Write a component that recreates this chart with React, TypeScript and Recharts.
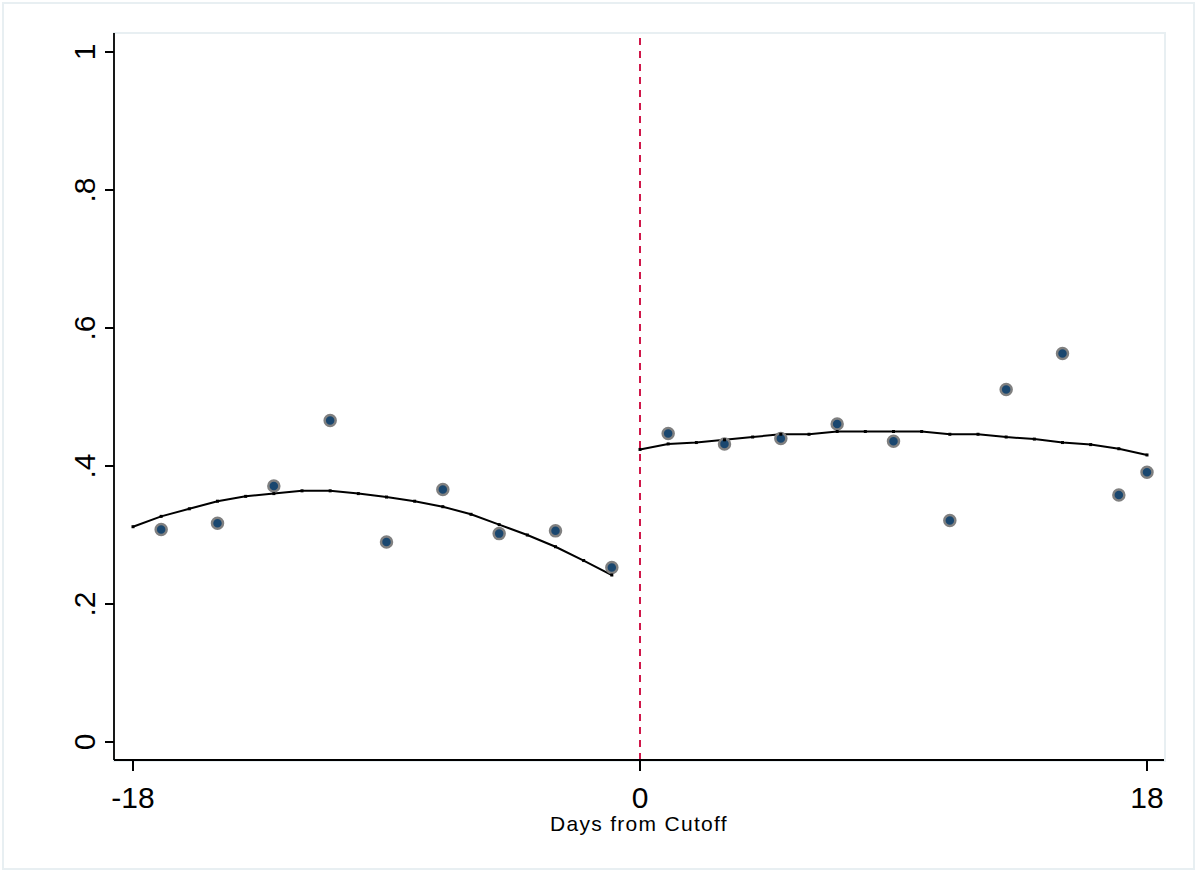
import { ComposedChart, Line, Scatter, XAxis, YAxis, ReferenceLine } from 'recharts'

// binned means (scatter)
const binX = [-17, -15, -13, -11, -9, -7, -5, -3, -1, 1, 3, 5, 7, 9, 11, 13, 15, 17, 18]
const binY = [0.308, 0.317, 0.371, 0.466, 0.290, 0.366, 0.302, 0.306, 0.253, 0.447, 0.432, 0.440, 0.461, 0.436, 0.321, 0.511, 0.563, 0.358, 0.391]

// fitted values, left of cutoff
const leftX = [-18, -17, -16, -15, -14, -13, -12, -11, -10, -9, -8, -7, -6, -5, -4, -3, -2, -1]
const leftY = [0.312, 0.327, 0.338, 0.349, 0.356, 0.360, 0.364, 0.364, 0.360, 0.355, 0.349, 0.341, 0.330, 0.315, 0.300, 0.283, 0.263, 0.242]

// fitted values, right of cutoff
const rightX = [0, 1, 2, 3, 4, 5, 6, 7, 8, 9, 10, 11, 12, 13, 14, 15, 16, 17, 18]
const rightY = [0.424, 0.432, 0.434, 0.438, 0.442, 0.446, 0.446, 0.450, 0.450, 0.450, 0.450, 0.446, 0.446, 0.442, 0.439, 0.434, 0.431, 0.425, 0.416]

const xTicks = [-18, 0, 18]
const yTicks = [0, 0.2, 0.4, 0.6, 0.8, 1]
const yTickLabels = ['0', '.2', '.4', '.6', '.8', '1']

const bins = binX.map((x, i) => ({ x, y: binY[i] }))
const leftFit = leftX.map((x, i) => ({ x, y: leftY[i] }))
const rightFit = rightX.map((x, i) => ({ x, y: rightY[i] }))

const font = '"Liberation Sans", Arial, sans-serif'

const XTick = (props: any) => {
  const { x, y, payload } = props
  return (
    <text x={x} y={y} textAnchor="middle" fontFamily={font} fontSize={30} fill="#000">
      {payload.value}
    </text>
  )
}

const YTick = (props: any) => {
  const { x, y, payload } = props
  const i = yTicks.indexOf(payload.value)
  return (
    <text x={x} y={y} transform={`rotate(-90, ${x}, ${y})`} textAnchor="middle" fontFamily={font} fontSize={30} fill="#000">
      {yTickLabels[i]}
    </text>
  )
}

const BinDot = (props: any) => {
  const { cx, cy } = props
  return <circle cx={cx} cy={cy} r={5.5} fill="#1a476f" stroke="#808080" strokeWidth={2.5} />
}

const FitDot = (props: any) => {
  const { cx, cy, index } = props
  return <rect key={index} x={cx - 1.5} y={cy - 1.5} width={3} height={3} fill="#000" />
}

export default function App() {
  return (
    <div style={{ position: 'absolute', left: 0, top: 0, width: 1196, height: 871, background: '#fff' }}>
      <div style={{ position: 'absolute', left: 2, top: 2, width: 1189, height: 864, border: '2px solid #e8eff2' }} />
      <div style={{ position: 'absolute', left: 113, top: 32, width: 1049, height: 726, border: '2px solid #e8eff2' }} />
      <div style={{ position: 'absolute', left: 0, top: 0 }}>
        <ComposedChart width={1196} height={871} margin={{ top: 33, right: 32, bottom: 0, left: 0 }}>
          <XAxis
            dataKey="x"
            type="number"
            domain={[-18, 18]}
            ticks={xTicks}
            padding={{ left: 19, right: 17 }}
            height={111}
            tickSize={11}
            tickMargin={37}
            tick={<XTick />}
            stroke="#000"
            strokeWidth={1.8}
            tickLine={{ stroke: '#000', strokeWidth: 2 }}
            label={{ value: 'Days from Cutoff', position: 'insideBottom', offset: 40, fontFamily: font, fontSize: 21, letterSpacing: 1.3, fill: '#000' }}
          />
          <YAxis
            dataKey="y"
            type="number"
            domain={[0, 1]}
            ticks={yTicks}
            padding={{ top: 19, bottom: 18 }}
            width={114}
            tickSize={9}
            tickMargin={10}
            tick={<YTick />}
            stroke="#000"
            strokeWidth={1.8}
            tickLine={{ stroke: '#000', strokeWidth: 2 }}
          />
          <ReferenceLine x={0} stroke="#d0174a" strokeWidth={2} strokeDasharray="7 6" />
          <Scatter data={bins} dataKey="y" shape={<BinDot />} isAnimationActive={false} />
          <Line data={leftFit} dataKey="y" type="linear" stroke="#000" strokeWidth={2} dot={<FitDot />} activeDot={false} isAnimationActive={false} />
          <Line data={rightFit} dataKey="y" type="linear" stroke="#000" strokeWidth={2} dot={<FitDot />} activeDot={false} isAnimationActive={false} />
        </ComposedChart>
      </div>
    </div>
  )
}
